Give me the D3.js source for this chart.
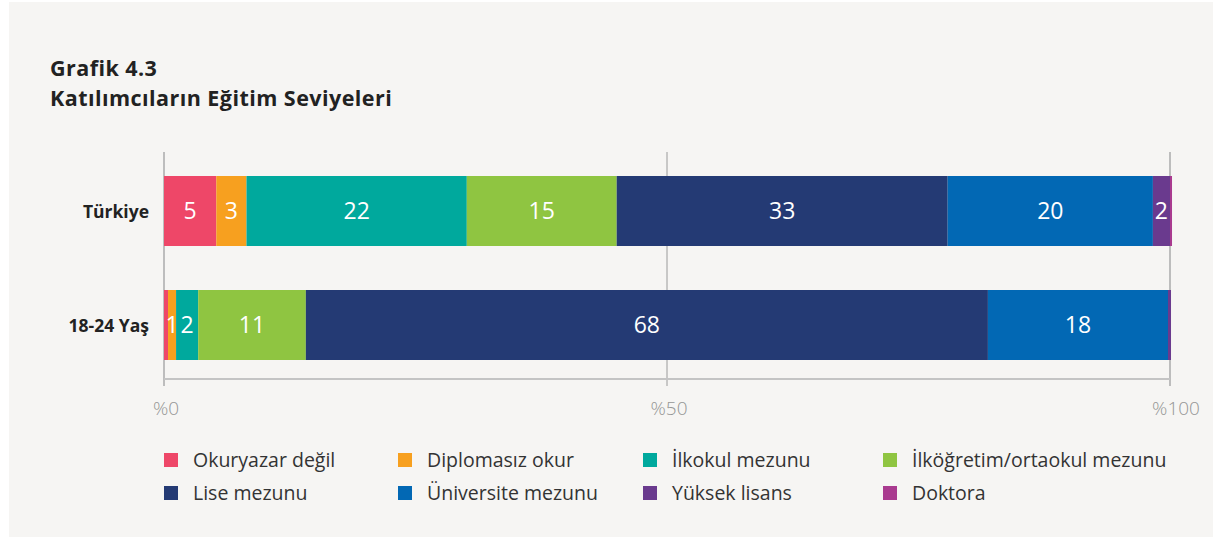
<!DOCTYPE html>
<html>
<head>
<meta charset="utf-8">
<script src="https://cdn.jsdelivr.net/npm/d3@7"></script>
<style>
  body { margin: 0; background: #ffffff; }
  svg { display: block; font-family: "Open Sans", "Lato", sans-serif; }
</style>
</head>
<body>
<div id="chart"></div>
<script>
var width = 1214, height = 538;

// DATA
var groups = ["Türkiye", "18-24 Yaş"];
var levels = ["Okuryazar değil", "Diplomasız okur", "İlkokul mezunu", "İlköğretim/ortaokul mezunu",
              "Lise mezunu", "Üniversite mezunu", "Yüksek lisans", "Doktora"];
var colors = ["#ee4768", "#f7a01f", "#00a99d", "#8fc541", "#243a74", "#0268b4", "#6a3a8e", "#a93a8f"];
var turkiye = [5.2, 3.0, 21.9, 14.9, 32.9, 20.4, 1.7, 0.2];
var genc = [0.4, 0.8, 2.2, 10.7, 67.8, 17.9, 0.3, 0.0];
var ticks = [0, 50, 100];

var series = [turkiye, genc];

var svg = d3.select("#chart")
  .append("svg")
  .attr("width", width)
  .attr("height", height);

// panel
svg.append("rect")
  .attr("x", 9).attr("y", 2)
  .attr("width", 1204).attr("height", 535)
  .attr("fill", "#f6f5f3");

// title
svg.append("text")
  .attr("x", 50).attr("y", 76)
  .attr("font-size", 21.5).attr("font-weight", "bold").attr("fill", "#222")
  .attr("letter-spacing", 0.45)
  .text("Grafik 4.3");
svg.append("text")
  .attr("x", 50).attr("y", 106)
  .attr("font-size", 21.5).attr("font-weight", "bold").attr("fill", "#222")
  .attr("letter-spacing", 0.45)
  .text("Katılımcıların Eğitim Seviyeleri");

var x = d3.scaleLinear().domain([0, 100]).range([164, 1170]);
var y = d3.scaleBand().domain(groups).range([154, 382])
  .paddingInner(44 / 114).paddingOuter(22 / 114);

// gridlines
svg.append("g").selectAll("line")
  .data(ticks)
  .enter().append("line")
  .attr("x1", function(d) { return x(d); })
  .attr("x2", function(d) { return x(d); })
  .attr("y1", 152).attr("y2", 386)
  .attr("stroke", function(d) { return d == 50 ? "#9a9a9a" : "#bdbdbd"; })
  .attr("stroke-width", function(d) { return d == 50 ? 1 : 2; });

// axis line
svg.append("line")
  .attr("x1", x(0)).attr("x2", x(100))
  .attr("y1", 379).attr("y2", 379)
  .attr("stroke", "#c4c4c4").attr("stroke-width", 2);

// tick labels
svg.append("g").selectAll("text")
  .data(ticks)
  .enter().append("text")
  .attr("x", function(d) { return x(d) + (d == 100 ? 6 : 2); })
  .attr("y", 415)
  .attr("text-anchor", "middle")
  .attr("font-size", 19).attr("font-weight", 300).attr("fill", "#959595")
  .text(function(d) { return "%" + d; });

// bars
groups.forEach(function(g, gi) {
  var vals = series[gi];
  var start = 0;
  var segs = vals.map(function(v, i) {
    var s = { x0: start, x1: start + v, v: v, i: i };
    start += v;
    return s;
  });
  var row = svg.append("g").attr("class", "row");
  row.selectAll("rect")
    .data(segs)
    .enter().append("rect")
    .attr("x", function(d) { return x(d.x0); })
    .attr("width", function(d) { return Math.max(0, x(d.x1) - x(d.x0)); })
    .attr("y", y(g))
    .attr("height", y.bandwidth())
    .attr("fill", function(d) { return colors[d.i]; });
  row.selectAll("text")
    .data(segs.filter(function(d) { return Math.round(d.v) >= 1; }))
    .enter().append("text")
    .attr("x", function(d) { return (x(d.x0) + x(d.x1)) / 2; })
    .attr("y", y(g) + y.bandwidth() / 2 + 8)
    .attr("text-anchor", "middle")
    .attr("font-size", 23).attr("font-weight", 500).attr("fill", "#ffffff")
    .text(function(d) { return Math.round(d.v); });

  svg.append("text")
    .attr("x", 149)
    .attr("y", y(g) + y.bandwidth() / 2 + 7)
    .attr("text-anchor", "end")
    .attr("font-size", 17.5).attr("font-weight", "bold").attr("fill", "#222")
    .text(g);
});

// legend
var legX = [164, 398, 643, 883];
var legY = [460, 493];
var leg = svg.append("g").selectAll("g")
  .data(levels)
  .enter().append("g")
  .attr("transform", function(d, i) { return "translate(" + legX[i % 4] + "," + legY[Math.floor(i / 4)] + ")"; });
leg.append("rect")
  .attr("x", 0).attr("y", -7)
  .attr("width", 14).attr("height", 14)
  .attr("fill", function(d, i) { return colors[i]; });
leg.append("text")
  .attr("x", 29).attr("y", 7)
  .attr("font-size", 19.5).attr("fill", "#333")
  .text(function(d) { return d; });
</script>
</body>
</html>
